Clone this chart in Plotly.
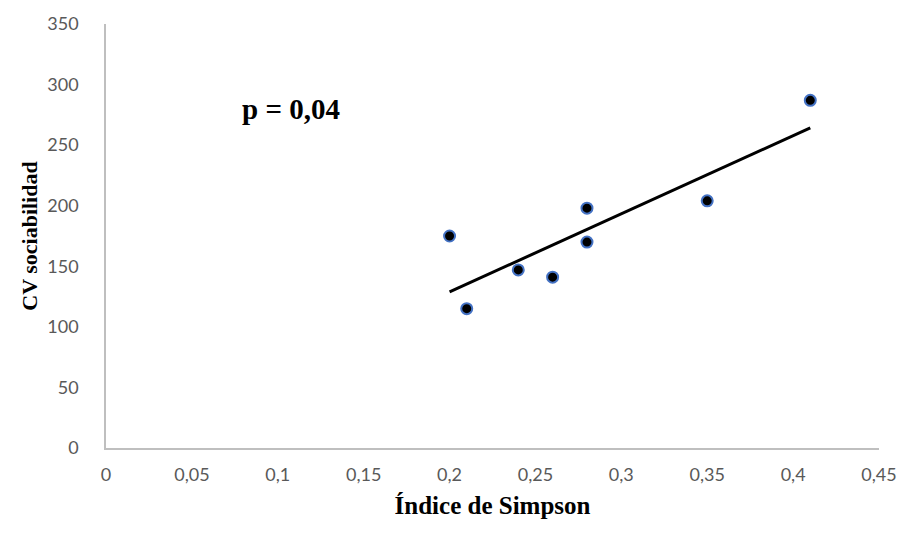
import numpy as np
import plotly.graph_objects as go

simpson = [0.20, 0.21, 0.24, 0.26, 0.28, 0.28, 0.35, 0.41]
cv_sociabilidad = [175, 115, 147, 141, 198, 170, 204, 287]

x_tickvals = [0, 0.05, 0.1, 0.15, 0.2, 0.25, 0.3, 0.35, 0.4, 0.45]
x_ticktext = ["0", "0,05", "0,1", "0,15", "0,2", "0,25", "0,3", "0,35", "0,4", "0,45"]
y_tickvals = [0, 50, 100, 150, 200, 250, 300, 350]

slope, intercept = np.polyfit(simpson, cv_sociabilidad, 1)
trend_x = [min(simpson), max(simpson)]
trend_y = [slope * v + intercept for v in trend_x]

fig = go.Figure()
fig.add_trace(go.Scatter(x=trend_x, y=trend_y, mode="lines",
                         line=dict(color="black", width=3), showlegend=False))
fig.add_trace(go.Scatter(x=simpson, y=cv_sociabilidad, mode="markers",
                         marker=dict(color="black", size=11,
                                     line=dict(color="#4472C4", width=2)),
                         showlegend=False))

fig.add_annotation(x=0.078, y=280, xref="x", yref="y", text="<b>p = 0,04</b>",
                   showarrow=False, xanchor="left", yanchor="middle",
                   font=dict(family="Liberation Serif", size=29, color="black"))

tick_font = dict(family="Lato", size=18, color="#595959")
fig.update_layout(
    width=912, height=535,
    margin=dict(l=106, r=33, t=18, b=87),
    plot_bgcolor="white", paper_bgcolor="white",
    xaxis=dict(range=[0, 0.45], tickvals=x_tickvals, ticktext=x_ticktext,
               showgrid=False, zeroline=False, showline=True,
               linecolor="#BFBFBF", linewidth=1.5, ticks="",
               tickfont=tick_font, ticklabelstandoff=10,
               title=dict(text="<b>Índice de Simpson</b>", standoff=12,
                          font=dict(family="Liberation Serif", size=25, color="black"))),
    yaxis=dict(range=[0, 350], tickvals=y_tickvals,
               showgrid=False, zeroline=False, showline=True,
               linecolor="#BFBFBF", linewidth=1.5, ticks="",
               tickfont=tick_font, ticklabelstandoff=22,
               title=dict(text="<b>CV sociabilidad</b>", standoff=4,
                          font=dict(family="Liberation Serif", size=22, color="black"))),
)

fig.write_html("out.html")
